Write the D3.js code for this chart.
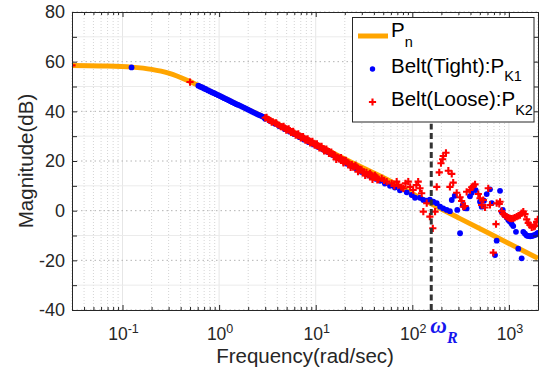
<!DOCTYPE html>
<html><head><meta charset="utf-8">
<script src="https://cdn.jsdelivr.net/npm/d3@7"></script>
<style>
body{margin:0;background:#fff}
svg{display:block}
text{font-family:"Liberation Sans",Arial,Helvetica,sans-serif;fill:#262626}
</style>
</head><body>
<svg id="c" width="539" height="376"></svg>
<script>
// ---- Nominal model Pn (orange line) ----
const pnFreq = [0.03,0.06,0.124,0.2,0.3,0.5,0.7,1,1.64,3,5,10,20,30,58.7,120,312,1000,2000];
const pnMag  = [58.5,58.3,57.8,56.9,55.4,52.0,49.3,46.4,42.3,37.5,33.0,26.9,20.8,17.5,12.0,5.2,-3.2,-13.2,-19.2];

// ---- Belt (Tight): PK1 (blue dots) ----
const tightFreq = [0.124,
 0.61,0.64,0.67,0.70,0.73,0.77,0.81,0.85,0.89,0.93,0.98,1.03,1.08,1.13,1.19,1.25,1.31,1.37,1.44,1.51,1.58,1.66,1.74,1.83,1.92,2.01,2.11,2.21,2.32,2.44,2.56,2.68,2.82,2.95,
 3.0,3.4,3.8,4.2,4.8,5.4,6.0,6.8,7.6,8.5,9.5,10.6,11.9,13.3,15.0,16.8,18.8,21.1,23.7,26.6,29.9,33.5,37.6,42.2,
 46.3,52,58.7,66,74.5,87.5,98.6,106.6,120,130,141,152,165,179,194,209,227,245,256,275,292,312,333,351,365,395,412,453,502,522,552,589,637,664,718,747,809,841,863,900,948,986,1026,1070,1109,1183,1250,1355,1409,1466,1527,1585,1660,1722,1787,1862,1936,1990];
const tightMag = [57.7,
 50.3,49.9,49.6,49.2,48.9,48.4,48.0,47.6,47.3,46.9,46.5,46.1,45.7,45.3,44.9,44.5,44.1,43.7,43.3,42.9,42.6,42.2,41.8,41.4,41.0,40.6,40.2,39.8,39.4,39.0,38.6,38.3,37.9,37.5,
 37.0,36.0,35.0,34.0,32.8,31.8,30.8,29.6,28.6,27.6,26.6,25.6,24.6,23.6,22.4,21.2,20.0,18.9,17.8,16.7,15.6,14.6,13.6,12.8,
 12.0,10.9,10.0,9.3,8.2,7.4,6.3,5.2,5.2,4.3,4.0,4.4,3.6,3.0,1.6,0.9,0.3,-0.2,4.3,6.0,0.3,-9.1,2.3,1.0,0.9,5.8,7.2,8.3,3.6,1.6,4.0,6.7,8.6,3.0,-17.9,-12.1,8.0,-0.4,0.3,-1.8,-2.8,-3.8,-4.5,-5.4,-6.2,-8.5,-15.3,-19.2,-8.5,-9.3,-10.0,-10.2,-10.3,-10.2,-10.0,-9.8,-9.4,-9.0];

// ---- Belt (Loose): PK2 (red crosses) ----
const looseFreq = [0.03,0.5,
 3.0,3.2,3.4,3.6,3.8,4.0,4.2,4.5,4.8,5.1,5.4,5.7,6.0,6.4,6.8,7.2,7.6,8.0,8.5,9.0,9.5,10.0,10.6,11.2,11.9,12.6,13.3,14.1,15.0,15.9,16.8,17.8,18.8,19.9,21.1,22.4,23.7,25.1,26.6,28.2,29.9,31.6,33.5,35.5,37.6,39.8,42.2,44.7,
 3.1,3.5,3.9,4.35,4.65,4.95,5.25,5.55,5.85,6.2,6.6,7.0,7.4,7.8,8.25,8.75,9.25,9.75,10.3,10.9,11.5,12.2,12.9,13.7,14.5,15.4,17.3,18.3,19.3,20.5,21.7,24.4,25.8,29.0,30.8,34.5,36.5,41.0,43.4,
 16.3,19.4,23.0,27.4,32.5,38.7,
 48.2,51,54.3,61.2,65,68.9,71.6,77,80.7,85,90.8,95,102,110,115,120,125,130,141,152,163,172,179,190,198,206,209,223,236,245,256,265,288,312,324,337,351,365,395,412,428,446,482,502,522,543,565,611,637,689,735,747,794,809,841,875,910,948,986,1026,1066,1109,1150,1204,1250,1303,1355,1409,1466,1527,1585,1650,1722,1800,1862,1936,1990];
const looseMag = [58.5,51.8,
 37.4,36.8,36.3,35.8,35.3,34.8,34.4,33.8,33.2,32.7,32.2,31.7,31.2,30.6,30.1,29.6,29.1,28.6,28.1,27.6,27.1,26.6,26.1,25.6,24.9,24.4,24.0,23.3,22.8,22.3,21.6,21.2,20.5,20.1,19.5,18.8,18.6,17.8,17.5,16.6,16.4,15.6,15.4,14.6,14.4,13.5,13.6,12.6,
 37.6,35.6,35.4,33.8,34.0,32.4,32.9,31.5,31.9,30.4,30.9,29.3,29.8,28.4,28.9,27.3,27.9,26.4,26.9,25.3,25.9,24.1,24.8,23.1,23.6,21.9,20.8,21.4,19.6,20.3,18.7,17.5,18.2,16.6,15.3,14.4,15.0,14.2,12.4,
 20.6,19.2,17.4,15.7,14.2,12.6,
 13.0,12.2,11.7,11.0,10.0,11.7,10.3,9.5,9.0,11.0,11.7,9.6,8.3,10.3,11.7,9.0,7.0,-0.4,3.0,-2.4,-7.1,-0.4,9.6,15.4,19.1,20.7,22.0,23.3,16.1,9.6,14.8,11.3,7.2,5.4,3.9,1.6,1.9,7.6,8.3,9.4,9.9,10.6,6.7,5.0,2.3,4.3,1.3,9.0,2.3,-16.9,-5.4,3.0,2.7,3.6,-0.2,-1.4,-2.0,-2.4,-2.8,-3.1,-3.2,-3.1,-2.8,-2.4,-2.1,-1.8,-1.0,-0.4,-1.4,-3.5,-4.9,-5.8,-6.7,-6.5,-6.2,-4.5,-3.5];

// ---- axes / ticks ----
const xDomain = [0.03, 2000];
const yDomain = [-40, 80];
const yTickValues = [-40,-30,-20,-10,0,10,20,30,40,50,60,70,80];
const yLabelValues = [-40,-20,0,20,40,60,80];
const xDecadeExps = [-1,0,1,2,3];
const omegaR = 157;

const svg = d3.select("#c");
const L=72, R=538, T=12, B=310;
const x = d3.scaleLog().domain(xDomain).range([L,R]);
const y = d3.scaleLinear().domain(yDomain).range([B,T]);

// all log ticks in range
const xTicksAll = [];
for (let e=-2; e<=3; e++) for (let k=1; k<=9; k++) {
  const v = k*Math.pow(10,e);
  if (v>=xDomain[0]*0.999 && v<=xDomain[1]*1.001) xTicksAll.push(+v.toPrecision(3));
}
const isMajor = v => Math.abs(Math.log10(v)-Math.round(Math.log10(v)))<1e-9;

// grid
const g = svg.append("g");
g.selectAll(".vmin").data(xTicksAll.filter(v=>!isMajor(v))).join("line")
  .attr("x1",d=>x(d)).attr("x2",d=>x(d)).attr("y1",T).attr("y2",B)
  .attr("stroke","#d4d4d4").attr("stroke-width",1).attr("stroke-dasharray","1,2");
g.selectAll(".vmaj").data(xTicksAll.filter(isMajor)).join("line")
  .attr("x1",d=>x(d)).attr("x2",d=>x(d)).attr("y1",T).attr("y2",B)
  .attr("stroke","#e6e6e6").attr("stroke-width",1);
g.selectAll(".hmin").data(yTickValues.filter(v=>v%20!==0)).join("line")
  .attr("x1",L).attr("x2",R).attr("y1",d=>y(d)).attr("y2",d=>y(d))
  .attr("stroke","#ebebeb").attr("stroke-width",1);
g.selectAll(".hmaj").data(yTickValues.filter(v=>v%20===0)).join("line")
  .attr("x1",L).attr("x2",R).attr("y1",d=>y(d)).attr("y2",d=>y(d))
  .attr("stroke","#b4b4b4").attr("stroke-width",1).attr("stroke-dasharray","1.5,3");

// clip
svg.append("defs").append("clipPath").attr("id","clip")
  .append("rect").attr("x",L).attr("y",T).attr("width",R-L).attr("height",B-T);
const plot = svg.append("g").attr("clip-path","url(#clip)");

// Pn line
const pnData = pnFreq.map((f,i)=>({f, m:pnMag[i]}));
plot.append("path").datum(pnData)
  .attr("d", d3.line().x(d=>x(d.f)).y(d=>y(d.m)).curve(d3.curveMonotoneX))
  .attr("fill","none").attr("stroke","#FFA500").attr("stroke-width",5).attr("stroke-linecap","butt");

// blue dots
const tight = tightFreq.map((f,i)=>({f, m:tightMag[i]}));
plot.selectAll(".t").data(tight).join("circle")
  .attr("cx",d=>x(d.f)).attr("cy",d=>y(d.m)).attr("r",2.9).attr("fill","#0000FF");

// red crosses
const loose = looseFreq.map((f,i)=>({f, m:looseMag[i]}));
const crossPath = "M-3.6,0H3.6M0,-3.6V3.6";
plot.selectAll(".l").data(loose).join("path")
  .attr("transform",d=>`translate(${x(d.f)},${y(d.m)})`)
  .attr("d",crossPath).attr("stroke","#FF0000").attr("stroke-width",2.1).attr("fill","none");

// omega_R dashed line
plot.append("line").attr("x1",x(omegaR)).attr("x2",x(omegaR))
  .attr("y1",y(-40)).attr("y2",y(35))
  .attr("stroke","#333").attr("stroke-width",3).attr("stroke-dasharray","6,3.5");

// axes (ticks inward)
const axStyle = sel => {
  sel.select(".domain").attr("stroke","#262626").attr("stroke-width",1);
  sel.selectAll(".tick line").attr("stroke","#262626");
};
const axLeft = svg.append("g").attr("transform",`translate(${L},0)`)
  .call(d3.axisLeft(y).tickValues(yTickValues).tickSize(-5).tickSizeOuter(0).tickPadding(7)
    .tickFormat(d=> yLabelValues.includes(d) ? String(d) : ""));
axLeft.call(axStyle);
axLeft.selectAll(".tick text").attr("font-size",18).attr("fill","#262626")
  .style("font-family","'Liberation Sans',Arial,sans-serif");

svg.append("g").attr("transform",`translate(${R},0)`)
  .call(d3.axisRight(y).tickValues(yTickValues).tickSize(-5).tickSizeOuter(0).tickFormat(""))
  .call(axStyle);

const axBottom = svg.append("g").attr("transform",`translate(0,${B})`)
  .call(d3.axisBottom(x).tickValues(xTicksAll).tickSize(-5).tickSizeOuter(0).tickFormat(""));
axBottom.call(axStyle);
axBottom.selectAll(".tick line").attr("y2",d=>isMajor(d)?-5:-3);

const axTop = svg.append("g").attr("transform",`translate(0,${T})`)
  .call(d3.axisTop(x).tickValues(xTicksAll).tickSize(-5).tickSizeOuter(0).tickFormat(""));
axTop.call(axStyle);
axTop.selectAll(".tick line").attr("y2",d=>isMajor(d)?5:3);

// x tick labels 10^e
const xl = svg.append("g");
xDecadeExps.forEach(e=>{
  const t = xl.append("text").attr("x",x(Math.pow(10,e))+1).attr("y",340)
    .attr("text-anchor","middle").attr("font-size",17.5);
  t.append("tspan").text("10");
  t.append("tspan").attr("dy",-7).attr("font-size",12.5).text(String(e));
});

// axis labels
svg.append("text").attr("x",(L+R)/2).attr("y",363).attr("text-anchor","middle")
  .attr("font-size",20.5).text("Frequency(rad/sec)");
svg.append("text").attr("transform",`translate(33,${(T+B)/2}) rotate(-90)`)
  .attr("text-anchor","middle").attr("font-size",20.5).text("Magnitude(dB)");

// omega_R label
const om = svg.append("text").attr("x",x(omegaR)-1).attr("y",333)
  .style("font-family","'Liberation Serif','Times New Roman',serif")
  .attr("font-weight","bold").attr("font-style","italic").attr("font-size",23)
  .style("fill","#1515ee");
om.append("tspan").text("ω");
om.append("tspan").attr("dy",10).attr("font-size",16).text("R");

// legend
const lg = svg.append("g");
lg.append("rect").attr("x",352.5).attr("y",17.5).attr("width",181.5).attr("height",104.5)
  .attr("fill","#fff").attr("stroke","#262626").attr("stroke-width",1);
lg.append("line").attr("x1",358).attr("x2",388).attr("y1",36).attr("y2",36)
  .attr("stroke","#FFA500").attr("stroke-width",5);
const t1 = lg.append("text").attr("x",391).attr("y",37).attr("font-size",20.5).style("fill","#000");
t1.append("tspan").text("P");
t1.append("tspan").attr("dy",10).attr("font-size",14.5).text("n");
lg.append("circle").attr("cx",372.5).attr("cy",69).attr("r",2.7).attr("fill","#0000FF");
const t2 = lg.append("text").attr("x",391).attr("y",73).attr("font-size",20.5).style("fill","#000");
t2.append("tspan").text("Belt(Tight):P");
t2.append("tspan").attr("dy",8).attr("font-size",14.5).text("K1");
lg.append("path").attr("transform","translate(372.5,102)").attr("d",crossPath)
  .attr("stroke","#FF0000").attr("stroke-width",2.1);
const t3 = lg.append("text").attr("x",391).attr("y",106).attr("font-size",20.5).style("fill","#000");
t3.append("tspan").text("Belt(Loose):P");
t3.append("tspan").attr("dy",9).attr("font-size",14.5).text("K2");
</script>
</body></html>
